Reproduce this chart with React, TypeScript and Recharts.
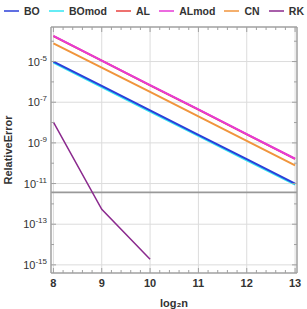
import React from 'react';
import { LineChart, Line, XAxis, YAxis, ReferenceLine } from 'recharts';

const logN = [8, 9, 10, 11, 12, 13];
const boErr = [1.0e-5, 6.3e-7, 4.0e-8, 2.5e-9, 1.6e-10, 1.0e-11];
const boModErr = [8.8e-6, 5.5e-7, 3.5e-8, 2.2e-9, 1.4e-10, 8.8e-12];
const alErr = [1.78e-4, 1.1e-5, 6.8e-7, 4.3e-8, 2.65e-9, 1.63e-10];
const alModErr = [1.82e-4, 1.12e-5, 6.9e-7, 4.4e-8, 2.7e-9, 1.66e-10];
const cnErr = [7.9e-5, 5.0e-6, 3.2e-7, 2.0e-8, 1.26e-9, 7.9e-11];
const rkErr = [1.05e-8, 5.4e-13, 1.9e-15, null, null, null];
const threshold = 3.7e-12;

const xTicks = [8, 8.2, 8.4, 8.6, 8.8, 9, 9.2, 9.4, 9.6, 9.8, 10, 10.2, 10.4, 10.6, 10.8, 11, 11.2, 11.4, 11.6, 11.8, 12, 12.2, 12.4, 12.6, 12.8, 13];
const xMajor = [8, 9, 10, 11, 12, 13];
const yExps = [-15, -14, -13, -12, -11, -10, -9, -8, -7, -6, -5, -4];
const yMajorExps = [-15, -13, -11, -9, -7, -5];

const series = [
  { key: 'BOmod', color: '#33e6f2' },
  { key: 'BO', color: '#2b3fd9' },
  { key: 'AL', color: '#e8423f' },
  { key: 'ALmod', color: '#e63ad6' },
  { key: 'CN', color: '#f0953c' },
  { key: 'RK', color: '#8b2a8e' },
];
const legendOrder = ['BO', 'BOmod', 'AL', 'ALmod', 'CN', 'RK'];

const data = logN.map((n, i) => ({
  n,
  BO: boErr[i],
  BOmod: boModErr[i],
  AL: alErr[i],
  ALmod: alModErr[i],
  CN: cnErr[i],
  RK: rkErr[i],
}));

const yTicks = yExps.map((e) => Math.pow(10, e));
const frame = '#a0a0a0';
const grid = '#dcdcdc';
const font = 'Liberation Sans, Arial, sans-serif';

const isMajorX = (v: number) => xMajor.some((m) => Math.abs(m - v) < 1e-6);
const expOf = (v: number) => Math.round(Math.log10(v));

const BottomTick = (props: any) => {
  const { x, y, payload } = props;
  const major = isMajorX(payload.value);
  return (
    <g>
      <line x1={x} x2={x} y1={y - 4} y2={y - 4 - (major ? 5 : 3)} stroke={frame} />
      {major && (
        <text x={x} y={y + 10} textAnchor="middle" fontSize={11} fontWeight="bold" fill="#333" fontFamily={font}>
          {payload.value}
        </text>
      )}
    </g>
  );
};

const TopTick = (props: any) => {
  const { x, y, payload } = props;
  const major = isMajorX(payload.value);
  return <line x1={x} x2={x} y1={y + 4} y2={y + 4 + (major ? 5 : 3)} stroke={frame} />;
};

const LeftTick = (props: any) => {
  const { x, y, payload } = props;
  const e = expOf(payload.value);
  const major = yMajorExps.includes(e);
  return (
    <g>
      <line x1={x + 4} x2={x + 4 + (major ? 5 : 3)} y1={y} y2={y} stroke={frame} />
      {major && (
        <text x={x} y={y + 4} textAnchor="end" fontSize={11} fill="#333" fontFamily={font}>
          <tspan>10</tspan>
          <tspan dy={-5} fontSize={8}>{String(e)}</tspan>
        </text>
      )}
    </g>
  );
};

const RightTick = (props: any) => {
  const { x, y, payload } = props;
  const major = yMajorExps.includes(expOf(payload.value));
  return <line x1={x - 4} x2={x - 4 - (major ? 5 : 3)} y1={y} y2={y} stroke={frame} />;
};

const Legend = () => (
  <div
    style={{
      position: 'absolute',
      top: 4,
      left: 3,
      width: 301,
      display: 'flex',
      justifyContent: 'space-between',
      fontFamily: font,
      fontSize: 10.5,
      fontWeight: 'bold',
      color: '#333',
    }}
  >
    {legendOrder.map((k) => {
      const s = series.find((x) => x.key === k)!;
      return (
        <div key={k} style={{ display: 'flex', alignItems: 'center' }}>
          <svg width={17} height={14}>
            <line x1={1} x2={16} y1={7} y2={7} stroke={s.color} strokeWidth={1.5} />
          </svg>
          <span style={{ marginLeft: 4 }}>{k}</span>
        </div>
      );
    })}
  </div>
);

export default function App() {
  return (
    <div style={{ position: 'absolute', top: 0, left: 0, width: 307, height: 309, background: '#fff' }}>
      <Legend />
      <LineChart width={307} height={309} data={data} margin={{ top: 17, right: 0, bottom: 0, left: 0 }}>
        {xMajor.map((v) => (
          <ReferenceLine key={'gx' + v} x={v} stroke={grid} strokeWidth={1} />
        ))}
        {yMajorExps.map((e) => (
          <ReferenceLine key={'gy' + e} y={Math.pow(10, e)} stroke={grid} strokeWidth={1} />
        ))}
        <ReferenceLine y={threshold} stroke="#999" strokeWidth={1.8} />
        <XAxis
          dataKey="n"
          type="number"
          domain={[7.95, 13.04]}
          ticks={xTicks}
          interval={0}
          height={36}
          tickSize={0}
          tickMargin={4}
          tickLine={false}
          axisLine={{ stroke: frame, strokeWidth: 1.5 }}
          tick={<BottomTick />}
          allowDataOverflow
          label={{ value: 'log₂n', position: 'insideBottom', offset: 2, fontSize: 11, fontWeight: 'bold', fill: '#333', fontFamily: font }}
        />
        <XAxis
          xAxisId="top"
          orientation="top"
          dataKey="n"
          type="number"
          domain={[7.95, 13.04]}
          ticks={xTicks}
          interval={0}
          height={10}
          tickSize={0}
          tickMargin={4}
          tickLine={false}
          axisLine={{ stroke: frame, strokeWidth: 1.5 }}
          tick={<TopTick />}
          allowDataOverflow
        />
        <YAxis
          scale="log"
          type="number"
          domain={[Math.pow(10, -15.4), Math.pow(10, -3.3)]}
          ticks={yTicks}
          interval={0}
          width={51}
          tickSize={0}
          tickMargin={4}
          tickLine={false}
          axisLine={{ stroke: frame, strokeWidth: 1.5 }}
          tick={<LeftTick />}
          allowDataOverflow
          label={{ value: 'RelativeError', angle: -90, position: 'insideLeft', offset: 8, fontSize: 11, fontWeight: 'bold', fill: '#333', fontFamily: font, style: { textAnchor: 'middle' } }}
        />
        <YAxis
          yAxisId="right"
          orientation="right"
          scale="log"
          type="number"
          domain={[Math.pow(10, -15.4), Math.pow(10, -3.3)]}
          ticks={yTicks}
          interval={0}
          width={10}
          tickSize={0}
          tickMargin={4}
          tickLine={false}
          axisLine={{ stroke: frame, strokeWidth: 1.5 }}
          tick={<RightTick />}
          allowDataOverflow
        />
        {series.map((s) => (
          <Line
            key={s.key}
            dataKey={s.key}
            stroke={s.color}
            strokeWidth={s.key === 'RK' ? 1.5 : 2}
            dot={false}
            isAnimationActive={false}
            connectNulls={false}
          />
        ))}
      </LineChart>
    </div>
  );
}
